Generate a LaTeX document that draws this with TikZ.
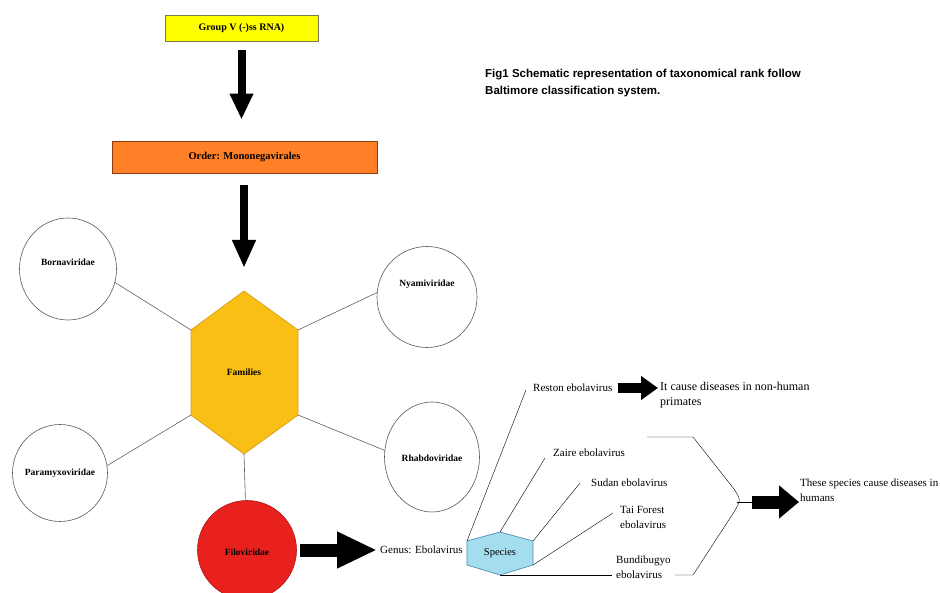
\documentclass[tikz,border=0pt]{standalone}
\usepackage{fontspec}
\setmainfont{Liberation Serif}
\newfontfamily\titlefont{Liberation Sans}
\usetikzlibrary{shapes.geometric,arrows.meta,positioning,calc}

\definecolor{grpyellow}{HTML}{FFFF00}
\definecolor{grpedge}{HTML}{7A7A50}
\definecolor{ordorange}{HTML}{FF8026}
\definecolor{ordedge}{HTML}{8B3A0E}
\definecolor{famgold}{HTML}{FABF14}
\definecolor{famedge}{HTML}{D9A21B}
\definecolor{filored}{HTML}{E8211F}
\definecolor{filoedge}{HTML}{B01818}
\definecolor{spblue}{HTML}{A4DDED}
\definecolor{spedge}{HTML}{4D8FB5}

% zero-size label, optional raise
\newcommand{\slim}[2][-3pt]{\smash{\raisebox{#1}{\makebox[0pt]{#2}}}}

\begin{document}
\begin{tikzpicture}[x=1pt,y=-1pt,
        every node/.style={font=\fontsize{11}{13}\selectfont},
        rankbox/.style={rectangle, draw, line width=0.8pt, font=\bfseries\fontsize{10}{12}\selectfont},
        family/.style={ellipse, draw=gray!70!black, fill=white, line width=0.6pt, inner sep=0pt, font=\bfseries\fontsize{9.5}{11}\selectfont},
        spname/.style={anchor=west, inner sep=1pt, align=left, font=\fontsize{11}{15}\selectfont},
        link/.style={draw=gray!75!black, line width=0.6pt},
        fat/.style n args={3}{line width=#1, -{Triangle[width=#2, length=#3]}}
    ]
    \useasboundingbox (0,0) rectangle (940,593);

    % ranks
    \node[rankbox, fill=grpyellow, draw=grpedge, minimum width=153pt, minimum height=26pt] (group) at (241.5,28) {Group V (-)ss RNA)};
    \node[rankbox, fill=ordorange, draw=ordedge, minimum width=265pt, minimum height=32pt, font=\bfseries\fontsize{10.5}{12}\selectfont] (order) at (244.5,157) {Order: Mononegavirales};

    % families hexagon
    \coordinate (famT) at (244,291);
    \coordinate (famUR) at (298,330);
    \coordinate (famLR) at (298,415);
    \coordinate (famB) at (244,454);
    \coordinate (famLL) at (191,415);
    \coordinate (famUL) at (191,330);
    \filldraw[fill=famgold, draw=famedge, line width=0.8pt] (famT) -- (famUR) -- (famLR) -- (famB) -- (famLL) -- (famUL) -- cycle;
    \node[font=\bfseries\fontsize{9.5}{11}\selectfont] (families) at (244,372) {Families};

    \node[family, minimum width=97pt, minimum height=102pt] (borna) at (68,269) {\slim[3.5pt]{Bornaviridae}};
    \node[family, minimum width=100pt, minimum height=101pt] (nyami) at (427,297) {\slim[10.5pt]{Nyamiviridae}};
    \node[family, minimum width=95pt, minimum height=97pt] (paramyxo) at (60,473) {\slim[-2.5pt]{Paramyxoviridae}};
    \node[family, minimum width=95pt, minimum height=110pt] (rhabdo) at (432,457) {\slim[-4.5pt]{Rhabdoviridae}};
    \node[family, fill=filored, draw=filoedge, minimum width=99pt, minimum height=99pt] (filo) at (247,550) {\slim[-5pt]{Filoviridae}};

    \draw[link] (borna.-16) -- (famUL);
    \draw[link] (nyami.175) -- (famUR);
    \draw[link] (paramyxo.9) -- (famLL);
    \draw[link] (rhabdo.172) -- (famLR);
    \draw[link] (famB) -- (filo);

    \draw[fat={8pt}{22pt}{26pt}, shorten <=9pt, shorten >=21pt] (group.south) -- (group.south |- order.north);
    \draw[fat={8pt}{22pt}{28pt}, shorten <=12pt, shorten >=23pt] (order.south -| famT) -- (famT);

    % genus and species
    \node[spname] (genus) at (379,550) {Genus: Ebolavirus};
    \draw[fat={13pt}{34pt}{40pt}, shorten <=3pt, shorten >=2pt] (filo.east) -- (genus.west);

    \coordinate (spT) at (500,532);
    \coordinate (spUR) at (533,541);
    \coordinate (spLR) at (533,565);
    \coordinate (spB) at (500,575);
    \coordinate (spLL) at (467,565);
    \coordinate (spUL) at (467,541);
    \filldraw[fill=spblue, draw=spedge, line width=0.7pt] (spT) -- (spUR) -- (spLR) -- (spB) -- (spLL) -- (spUL) -- cycle;
    \node[font=\fontsize{10.5}{12}\selectfont] (species) at (500,553) {Species};

    \node[spname] (reston) at (532,388) {Reston ebolavirus};
    \node[spname, font=\fontsize{12}{15}\selectfont] (nonhuman) at (659,395) {It cause diseases in non-human\\primates};
    \node[spname] (zaire) at (552,453) {Zaire ebolavirus};
    \node[spname] (sudan) at (590,483) {Sudan ebolavirus};
    \node[spname] (tai) at (619,517) {Tai Forest\\ebolavirus};
    \node[spname] (bundi) at (615,567) {Bundibugyo\\ebolavirus};
    \node[spname] (humans) at (799,490) {These species cause diseases in\\humans};

    \draw (spUL) -- ($(reston.west)+(-6,2)$);
    \draw (spT) -- ($(zaire.west)+(-7,5)$);
    \draw (spUR) -- ($(sudan.west)+(-10,0)$);
    \draw (spLR) -- ($(tai.west)+(-6,-4)$);
    \draw (spB) -- ([xshift=-3pt]spB -| bundi.west);

    \draw[fat={10pt}{23pt}{17pt}, shorten <=4pt, shorten >=1pt] (reston.east) -- (reston.east -| nonhuman.west);

    % bracket round the human species
    \draw (647,437) -- (693,437) -- (734,489) .. controls (741,500) .. (734,512) -- (693,575) -- ([xshift=3pt]bundi.east |- spB);
    \coordinate (brk) at (737,502);
    \coordinate (tail) at (752,502);
    \draw (brk) -- (tail);
    \draw[fat={13pt}{32pt}{20pt}] (tail) -- (tail -| humans.west);

    \node[anchor=west, align=left, inner sep=1pt, font=\titlefont\bfseries\fontsize{11.5}{17}\selectfont] (title) at (484,83) {Fig1 Schematic representation of taxonomical rank follow\\Baltimore classification system.};
\end{tikzpicture}
\end{document}
